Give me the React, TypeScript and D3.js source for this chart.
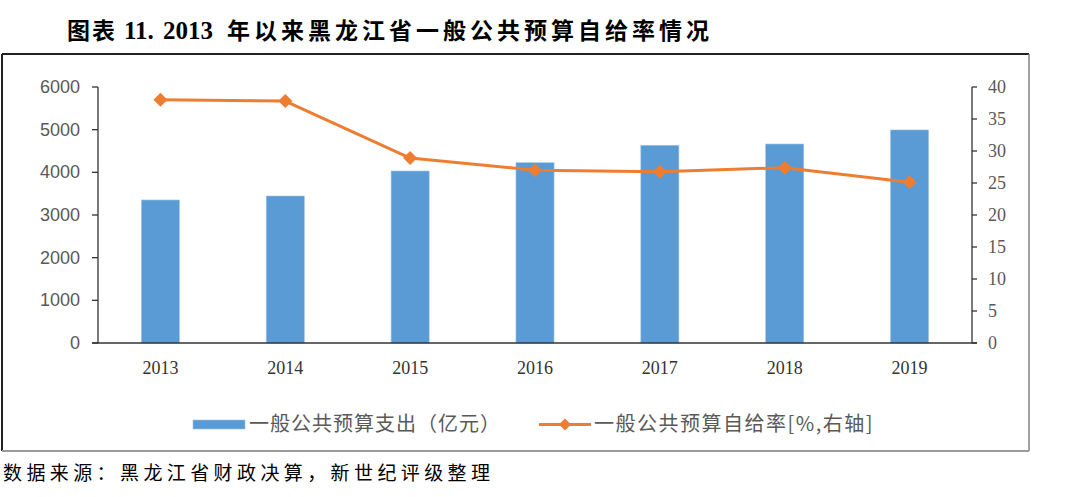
import React from "react";
import * as d3 from "d3";

const years = ["2013", "2014", "2015", "2016", "2017", "2018", "2019"];
const spending = [3352, 3445, 4031, 4226, 4634, 4664, 4993];
const ratio = [38.0, 37.8, 28.9, 27.0, 26.75, 27.4, 25.1];
const leftTicks = [0, 1000, 2000, 3000, 4000, 5000, 6000];
const rightTicks = [0, 5, 10, 15, 20, 25, 30, 35, 40];

const titleA = "图表";
const titleB = "11.";
const titleC = "2013";
const titleD = "年以来黑龙江省一般公共预算自给率情况";
const source = "数据来源：黑龙江省财政决算，新世纪评级整理";
const legendBar = "一般公共预算支出（亿元）";
const legendLine = "一般公共预算自给率[%,右轴]";

const W = 1080, H = 497;
const plotL = 98, plotR = 972, plotT = 87, plotB = 343;

export default function App() {
  const x = d3.scaleBand<string>().domain(years).range([plotL, plotR]).paddingInner(0.695).paddingOuter(0.3475);
  const yL = d3.scaleLinear().domain([0, 6000]).range([plotB, plotT]);
  const yR = d3.scaleLinear().domain([0, 40]).range([plotB, plotT]);
  const cx = (d: string) => (x(d) as number) + x.bandwidth() / 2;
  const line = d3.line<number>().x((_, i) => cx(years[i])).y((v) => yR(v));
  const gray = "#595959";
  const diamond = (px: number, py: number, r = 7) => `M${px},${py - r}L${px + r},${py}L${px},${py + r}L${px - r},${py}Z`;

  return (
    <svg width={W} height={H} style={{ position: "absolute", left: 0, top: 0, background: "#fff" }}>
      <g fill="#000" fontWeight={700}>
        <text x={67} y={39} fontFamily="'Noto Sans CJK SC'" fontSize={23} letterSpacing={2}>{titleA}</text>
        <text x={124} y={39} fontFamily="'Liberation Serif'" fontSize={25}>{titleB}</text>
        <text x={163} y={39} fontFamily="'Liberation Serif'" fontSize={25}>{titleC}</text>
        <text x={227} y={39} fontFamily="'Noto Sans CJK SC'" fontSize={23} letterSpacing={4}>{titleD}</text>
      </g>
      {/* frame */}
      <line x1={2} y1={54} x2={1029} y2={54} stroke="#222" strokeWidth={2} />
      <line x1={2} y1={54} x2={2} y2={451} stroke="#222" strokeWidth={2} />
      <line x1={1029} y1={54} x2={1029} y2={451} stroke="#7f7f7f" strokeWidth={1.5} />
      <line x1={2} y1={451} x2={1029} y2={451} stroke="#9a9a9a" strokeWidth={2} />

      {/* bars */}
      {years.map((yr, i) => (
        <rect key={yr} x={x(yr)} y={yL(spending[i])} width={x.bandwidth()} height={plotB - yL(spending[i])} fill="#5B9BD5" stroke="#9DC3E6" strokeWidth={0.6} />
      ))}

      {/* axes */}
      <line x1={plotL} y1={plotT} x2={plotL} y2={plotB} stroke="#333" strokeWidth={1.3} />
      <line x1={plotR} y1={plotT} x2={plotR} y2={plotB} stroke="#333" strokeWidth={1.3} />
      <line x1={plotL - 6} y1={plotB} x2={plotR + 5} y2={plotB} stroke="#333" strokeWidth={1.3} />
      {leftTicks.map((t) => (
        <g key={"l" + t}>
          <line x1={plotL - 6} x2={plotL} y1={yL(t)} y2={yL(t)} stroke="#333" strokeWidth={1.3} />
          <text x={80} y={yL(t) + 6} textAnchor="end" fontFamily="'Liberation Sans'" fontSize={18} fill={gray}>{t}</text>
        </g>
      ))}
      {rightTicks.map((t) => (
        <g key={"r" + t}>
          <line x1={plotR} x2={plotR + 5} y1={yR(t)} y2={yR(t)} stroke="#333" strokeWidth={1.3} />
          <text x={988} y={yR(t) + 6} textAnchor="start" fontFamily="'Liberation Serif'" fontSize={18} fill={gray}>{t}</text>
        </g>
      ))}
      {years.map((yr) => (
        <text key={"x" + yr} x={cx(yr)} y={374} textAnchor="middle" fontFamily="'Liberation Serif'" fontSize={18} fill="#333">{yr}</text>
      ))}

      {/* line */}
      <path d={line(ratio) as string} fill="none" stroke="#ED7D31" strokeWidth={3} strokeLinejoin="round" />
      {ratio.map((v, i) => (
        <path key={"m" + i} d={diamond(cx(years[i]), yR(v))} fill="#ED7D31" />
      ))}

      {/* legend */}
      <rect x={193} y={420} width={52} height={9} fill="#5B9BD5" stroke="#9DC3E6" strokeWidth={0.6} />
      <text x={249} y={431} fontFamily="'Noto Sans CJK SC'" fontSize={20} letterSpacing={1} fill={gray}>{legendBar}</text>
      <line x1={539} x2={591} y1={424.5} y2={424.5} stroke="#ED7D31" strokeWidth={3} />
      <path d={diamond(565, 424.5, 6)} fill="#ED7D31" />
      <text x={594} y={431} fontFamily="'Noto Sans CJK SC'" fontSize={20} letterSpacing={1.5} fill={gray}>{legendLine}</text>

      <text x={3} y={480} fontFamily="'Noto Sans CJK SC'" fontSize={19} letterSpacing={4.4} fill="#000">{source}</text>
    </svg>
  );
}
